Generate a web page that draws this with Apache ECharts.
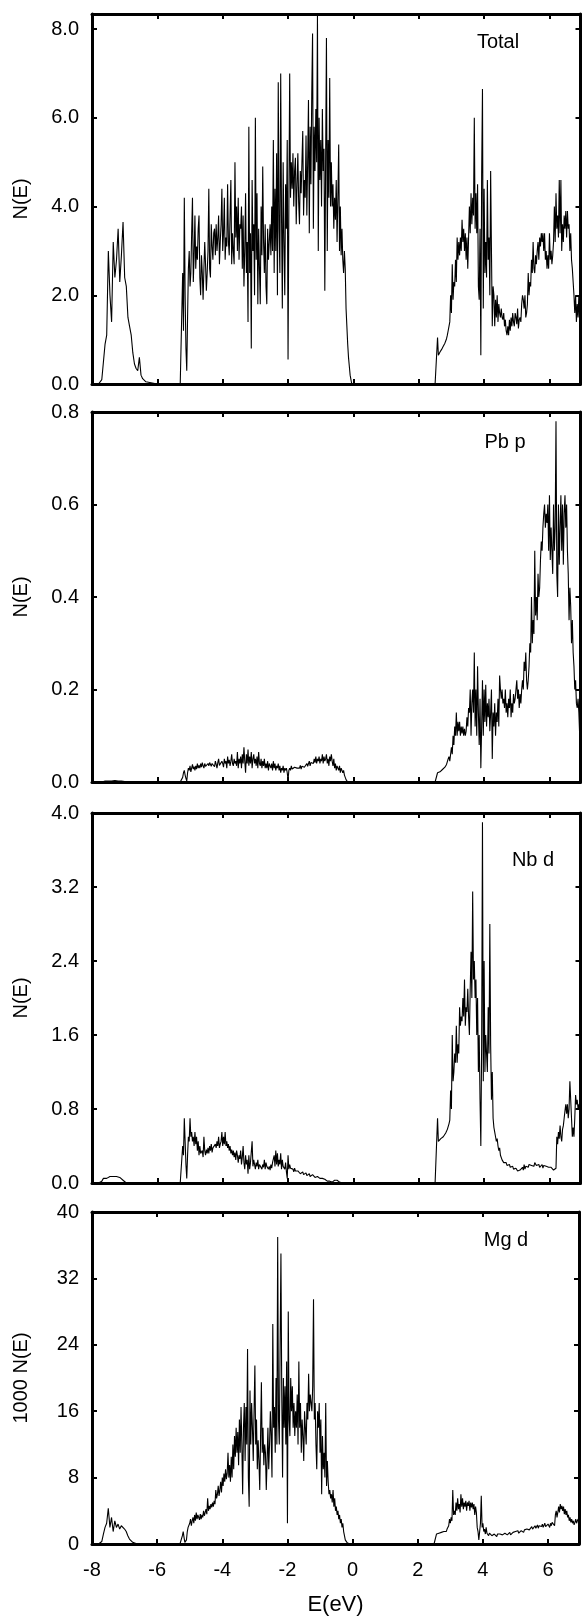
<!DOCTYPE html>
<html><head><meta charset="utf-8">
<script src="https://cdn.jsdelivr.net/npm/echarts@6/dist/echarts.min.js"></script>
<style>html,body{margin:0;padding:0;background:#fff}#c{width:582px;height:1617px}</style>
</head><body><div id="c"></div>
<script>
// Energy sampling points (eV): coarse in empty gaps, fine inside the bands
const energy = [
-8,-7.8,
-7.75,-7.7,-7.65,-7.6,-7.55,-7.5,-7.45,-7.4,-7.35,-7.3,-7.25,-7.2,-7.15,-7.1,-7.05,
-7,-6.95,-6.9,-6.85,-6.8,-6.75,-6.7,-6.65,-6.6,-6.55,-6.5,-6.45,-6.4,-6.35,-6.3,
-6,-5.5,-5.3,
-5.25,-5.225,-5.2,-5.175,-5.15,-5.125,-5.1,-5.075,
-5.05,-5.025,-5,-4.975,-4.95,-4.925,-4.9,-4.875,
-4.85,-4.825,-4.8,-4.775,-4.75,-4.725,-4.7,-4.675,
-4.65,-4.625,-4.6,-4.575,-4.55,-4.525,-4.5,-4.475,
-4.45,-4.425,-4.4,-4.375,-4.35,-4.325,-4.3,-4.275,
-4.25,-4.225,-4.2,-4.175,-4.15,-4.125,-4.1,-4.075,
-4.05,-4.025,-4,-3.975,-3.95,-3.925,-3.9,-3.875,
-3.85,-3.825,-3.8,-3.775,-3.75,-3.725,-3.7,-3.675,
-3.65,-3.625,-3.6,-3.575,-3.55,-3.525,-3.5,-3.475,
-3.45,-3.425,-3.4,-3.375,-3.35,-3.325,-3.3,-3.275,
-3.25,-3.225,-3.2,-3.175,-3.15,-3.125,-3.1,-3.075,
-3.05,-3.025,-3,-2.975,-2.95,-2.925,-2.9,-2.875,
-2.85,-2.825,-2.8,-2.775,-2.75,-2.725,-2.7,-2.675,
-2.65,-2.625,-2.6,-2.575,-2.55,-2.525,-2.5,-2.475,
-2.45,-2.425,-2.4,-2.375,-2.35,-2.325,-2.3,-2.275,
-2.25,-2.225,-2.2,-2.175,-2.15,-2.125,-2.1,-2.075,
-2.05,-2.025,-2,-1.975,-1.95,-1.925,-1.9,-1.875,
-1.85,-1.825,-1.8,-1.775,-1.75,-1.725,-1.7,-1.675,
-1.65,-1.625,-1.6,-1.575,-1.55,-1.525,-1.5,-1.475,
-1.45,-1.425,-1.4,-1.375,-1.35,-1.325,-1.3,-1.275,
-1.25,-1.225,-1.2,-1.175,-1.15,-1.125,-1.1,-1.075,
-1.05,-1.025,-1,-0.975,-0.95,-0.925,-0.9,-0.875,
-0.85,-0.825,-0.8,-0.775,-0.75,-0.725,-0.7,-0.675,
-0.65,-0.625,-0.6,-0.575,-0.55,-0.525,-0.5,-0.475,
-0.45,-0.425,-0.4,-0.375,-0.35,-0.325,-0.3,-0.275,
-0.25,-0.225,-0.2,-0.175,-0.15,-0.125,-0.1,-0.075,
-0.05,
0.3,1.5,2.5,
2.55,2.575,2.6,2.625,2.65,2.675,2.7,2.725,
2.75,2.775,2.8,2.825,2.85,2.875,2.9,2.925,
2.95,2.975,3,3.025,3.05,3.075,3.1,3.125,
3.15,3.175,3.2,3.225,3.25,3.275,3.3,3.325,
3.35,3.375,3.4,3.425,3.45,3.475,3.5,3.525,
3.55,3.575,3.6,3.625,3.65,3.675,3.7,3.725,
3.75,3.775,3.8,3.825,3.85,3.875,3.9,3.925,
3.95,3.975,4,4.025,4.05,4.075,4.1,4.125,
4.15,4.175,4.2,4.225,4.25,4.275,4.3,4.325,
4.35,4.375,4.4,4.425,4.45,4.475,4.5,4.525,
4.55,4.575,4.6,4.625,4.65,4.675,4.7,4.725,
4.75,4.775,4.8,4.825,4.85,4.875,4.9,4.925,
4.95,4.975,5,5.025,5.05,5.075,5.1,5.125,
5.15,5.175,5.2,5.225,5.25,5.275,5.3,5.325,
5.35,5.375,5.4,5.425,5.45,5.475,5.5,5.525,
5.55,5.575,5.6,5.625,5.65,5.675,5.7,5.725,
5.75,5.775,5.8,5.825,5.85,5.875,5.9,5.925,
5.95,5.975,6,6.025,6.05,6.075,6.1,6.125,
6.15,6.175,6.2,6.225,6.25,6.275,6.3,6.325,
6.35,6.375,6.4,6.425,6.45,6.475,6.5,6.525,
6.55,6.575,6.6,6.625,6.65,6.675,6.7,6.725,
6.75,6.775,6.8,6.825,6.85,6.875,6.9,6.925,
6.95
];

// Total N(E)
const totalDOS = [
0,0,
0,0.1,0.5,0.9,1.1,3.0,2.0,1.4,3.2,2.4,2.8,3.5,2.3,2.9,3.65,
2.4,2.2,1.5,1.3,1.1,0.7,0.45,0.35,0.3,0.6,0.2,0.12,0.08,0.05,0.02,
0,0,0,
0,2.5,1.2,4.2,2.0,0.8,0.3,1.5,
2.6,3.0,2.2,2.5,3.4,4.2,2.3,2.9,
3.8,2.6,3.1,2.8,3.5,3.8,2.4,2.0,
2.9,2.5,1.9,2.6,3.2,2.7,2.1,2.5,
3.0,4.4,2.6,2.4,3.6,3.1,2.8,3.4,
3.5,2.9,3.6,3.0,3.3,3.8,2.7,3.2,
3.6,4.4,3.0,3.4,4.2,2.8,3.3,3.1,
4.5,3.2,2.9,3.8,4.6,2.7,3.4,3.0,
2.7,5.0,3.3,4.0,3.0,4.2,2.8,3.6,
3.5,4.0,2.6,3.8,2.2,3.0,4.3,2.5,
3.2,1.4,5.8,2.5,3.4,0.8,4.6,3.0,
3.6,2.0,6.0,2.8,4.3,1.8,3.5,2.6,
1.8,4.0,2.9,4.9,3.2,2.5,3.6,2.2,
1.8,3.5,2.8,3.2,3.6,2.9,4.0,3.0,
5.5,2.5,4.4,3.0,5.2,2.0,6.8,3.5,
2.5,7.0,3.8,1.7,5.0,3.2,2.0,4.5,
3.5,5.5,0.55,4.0,7.0,4.2,5.0,4.4,
5.2,4.0,4.8,5.1,3.6,4.5,5.2,4.1,
3.6,4.8,4.3,5.0,5.7,3.8,4.6,4.2,
5.6,3.8,5.0,6.4,3.4,5.8,4.5,6.5,
7.9,3.5,5.8,4.8,6.2,5.0,8.3,3.0,
6.0,4.6,5.5,4.0,6.2,4.8,5.3,2.1,
5.0,7.8,3.0,5.5,4.2,6.9,4.0,5.0,
4.0,4.5,3.5,4.2,3.7,4.6,3.2,4.2,
5.4,3.0,4.0,2.9,3.5,2.8,2.5,3.0,
2.6,1.7,1.3,0.9,0.6,0.4,0.2,0.1,
0,
0,0,0,
0,1.05,0.65,0.68,0.72,0.75,0.78,0.82,
0.85,0.88,0.92,0.97,1.02,1.1,1.2,1.3,
1.4,2.0,1.6,2.7,1.9,2.3,2.2,2.8,
2.3,3.3,2.8,3.2,2.9,3.3,3.0,3.7,
3.2,3.5,3.0,3.4,2.8,3.3,2.6,3.3,
4.0,3.4,4.3,3.6,4.2,3.8,6.0,3.5,
4.3,3.4,4.5,2.2,1.9,3.5,0.65,4.7,
6.65,1.7,4.4,2.5,3.2,2.4,4.6,2.8,
3.3,2.0,4.8,3.0,1.3,2.2,2.0,1.3,
1.9,1.5,2.0,1.4,1.8,1.6,1.5,1.7,
1.5,1.45,1.6,1.3,1.45,1.2,1.1,1.3,
1.1,1.45,1.2,1.5,1.3,1.6,1.4,1.3,
1.6,1.5,1.35,1.7,1.25,1.45,1.5,1.4,
1.8,2.0,1.9,1.7,2.0,1.5,1.6,1.8,
2.5,2.0,2.3,2.2,2.8,2.5,3.2,2.6,
2.5,2.9,2.7,3.0,3.2,2.8,3.3,3.1,
3.4,3.2,3.4,3.0,3.4,2.8,3.0,2.6,
2.9,2.6,3.4,2.8,3.0,2.7,2.9,3.2,
4.0,3.2,4.3,3.5,3.8,3.3,4.6,3.4,
4.6,3.0,3.6,3.2,3.8,3.5,3.9,3.3,
3.9,3.5,3.6,3.0,3.4,2.8,2.6,2.3,
2.0,1.6,2.0,1.4,1.8,1.5,2.0,1.4,
1.6
];

// Pb p N(E)
const pbP = [
0,0,
0,0,0.003,0.002,0.003,0.002,0.002,0.002,0.003,0.003,0.002,0.002,0.003,0.002,0.002,
0.001,0,0,0,0,0,0,0,0,0,0,0,0,0,0,
0,0,0,
0,0.01,0.02,0.025,0.015,0.008,0.002,0.02,
0.03,0.025,0.035,0.022,0.03,0.038,0.028,0.033,
0.025,0.035,0.028,0.04,0.03,0.036,0.03,0.04,
0.032,0.042,0.035,0.03,0.04,0.034,0.038,0.03,
0.04,0.035,0.042,0.038,0.034,0.04,0.036,0.04,
0.033,0.045,0.038,0.03,0.042,0.05,0.036,0.04,
0.035,0.045,0.04,0.032,0.05,0.04,0.045,0.03,
0.055,0.04,0.048,0.035,0.045,0.06,0.04,0.035,
0.05,0.04,0.045,0.035,0.065,0.03,0.05,0.04,
0.055,0.03,0.06,0.04,0.075,0.045,0.02,0.06,
0.04,0.07,0.035,0.055,0.04,0.065,0.03,0.05,
0.06,0.04,0.05,0.035,0.055,0.03,0.065,0.04,
0.035,0.05,0.03,0.045,0.035,0.05,0.03,0.04,
0.03,0.045,0.025,0.04,0.035,0.03,0.04,0.025,
0.045,0.03,0.04,0.025,0.035,0.03,0.04,0.025,
0.035,0.02,0.03,0.025,0.035,0.02,0.03,0.025,
0.03,0.02,0.005,0.025,0.03,0.025,0.035,0.028,
0.03,0.025,0.032,0.028,0.035,0.03,0.026,0.033,
0.03,0.036,0.028,0.034,0.03,0.038,0.032,0.035,
0.03,0.04,0.034,0.038,0.045,0.035,0.042,0.038,
0.045,0.04,0.05,0.042,0.055,0.04,0.05,0.045,
0.055,0.04,0.05,0.045,0.06,0.04,0.055,0.045,
0.05,0.06,0.04,0.05,0.035,0.055,0.045,0.06,
0.045,0.035,0.05,0.03,0.04,0.025,0.035,0.03,
0.025,0.035,0.02,0.03,0.025,0.02,0.025,0.015,
0.01,0.005,0.003,0,0,0,0,0,
0,
0,0,0,
0,0.02,0.018,0.02,0.022,0.024,0.025,0.027,
0.028,0.03,0.032,0.034,0.038,0.042,0.05,0.055,
0.045,0.06,0.075,0.06,0.1,0.08,0.12,0.1,
0.15,0.1,0.13,0.11,0.13,0.1,0.12,0.105,
0.12,0.1,0.115,0.1,0.11,0.14,0.12,0.16,
0.15,0.2,0.1,0.17,0.2,0.15,0.28,0.12,
0.2,0.1,0.25,0.15,0.08,0.18,0.03,0.12,
0.22,0.1,0.2,0.13,0.21,0.12,0.17,0.14,
0.18,0.11,0.15,0.2,0.05,0.15,0.12,0.17,
0.1,0.15,0.13,0.18,0.12,0.23,0.2,0.18,
0.2,0.17,0.18,0.16,0.2,0.15,0.17,0.14,
0.18,0.16,0.2,0.14,0.17,0.15,0.19,0.17,
0.18,0.2,0.22,0.18,0.2,0.16,0.19,0.17,
0.2,0.22,0.2,0.26,0.24,0.28,0.22,0.2,
0.22,0.25,0.3,0.28,0.4,0.3,0.35,0.32,
0.5,0.36,0.4,0.35,0.45,0.4,0.42,0.48,
0.52,0.5,0.55,0.58,0.6,0.55,0.58,0.56,
0.6,0.5,0.62,0.48,0.55,0.5,0.45,0.6,
0.5,0.55,0.78,0.45,0.4,0.6,0.47,0.55,
0.62,0.5,0.6,0.47,0.58,0.62,0.55,0.6,
0.5,0.45,0.35,0.42,0.38,0.3,0.35,0.28,
0.25,0.2,0.22,0.17,0.16,0.18,0.15,0.1,
0.09
];

// Nb d N(E)
const nbD = [
0,0,
0,0.02,0.05,0.06,0.05,0.06,0.07,0.06,0.07,0.06,0.07,0.05,0.06,0.04,0.03,
0.01,0,0,0,0,0,0,0,0,0,0,0,0,0,0,
0,0,0,
0,0.4,0.3,0.7,0.45,0.2,0.05,0.3,
0.5,0.45,0.7,0.5,0.55,0.45,0.5,0.4,
0.55,0.42,0.5,0.35,0.45,0.3,0.4,0.32,
0.3,0.35,0.28,0.5,0.35,0.3,0.36,0.32,
0.38,0.32,0.4,0.35,0.42,0.33,0.38,0.4,
0.36,0.42,0.38,0.45,0.4,0.5,0.38,0.42,
0.45,0.55,0.4,0.5,0.42,0.55,0.4,0.45,
0.38,0.42,0.35,0.4,0.32,0.36,0.3,0.35,
0.28,0.33,0.25,0.35,0.3,0.22,0.3,0.26,
0.35,0.2,0.28,0.4,0.22,0.15,0.3,0.2,
0.25,0.1,0.3,0.15,0.22,0.2,0.45,0.18,
0.25,0.2,0.15,0.22,0.18,0.25,0.15,0.2,
0.18,0.22,0.15,0.2,0.17,0.25,0.15,0.22,
0.18,0.2,0.15,0.18,0.14,0.2,0.16,0.22,
0.2,0.3,0.18,0.35,0.2,0.32,0.18,0.25,
0.2,0.32,0.15,0.25,0.18,0.2,0.15,0.22,
0.12,0.05,0.3,0.15,0.2,0.16,0.18,0.14,
0.15,0.12,0.16,0.13,0.15,0.11,0.13,0.12,
0.13,0.1,0.12,0.11,0.12,0.09,0.11,0.1,
0.11,0.08,0.1,0.09,0.1,0.07,0.09,0.08,
0.09,0.07,0.08,0.06,0.08,0.06,0.07,0.05,
0.06,0.05,0.06,0.04,0.05,0.03,0.05,0.04,
0.03,0.05,0.02,0.04,0.03,0.02,0.03,0.02,
0.01,0.03,0.02,0.03,0.01,0.02,0.03,0.01,
0.02,0.01,0.005,0.01,0,0,0,0,
0,0,0,0,0,0,0,0,
0,
0,0,0,
0,0.7,0.45,0.46,0.47,0.48,0.49,0.5,
0.5,0.51,0.52,0.54,0.56,0.58,0.6,0.64,
0.68,1.0,0.8,1.6,1.1,1.2,1.4,1.3,
1.7,1.3,1.5,1.4,1.9,1.7,1.8,1.75,
2.0,1.8,2.2,1.7,1.9,1.85,2.1,1.8,
1.6,2.1,2.5,2.0,3.15,2.2,2.4,2.0,
2.2,1.6,2.0,1.2,1.6,0.9,0.4,1.5,
3.9,1.1,2.4,1.2,1.6,1.4,1.2,1.9,
1.4,2.8,1.5,0.9,1.2,0.7,0.6,0.55,
0.5,0.45,0.48,0.4,0.35,0.38,0.3,0.28,
0.25,0.27,0.22,0.24,0.2,0.22,0.19,0.2,
0.18,0.2,0.17,0.19,0.16,0.18,0.15,0.17,
0.15,0.16,0.14,0.13,0.15,0.12,0.14,0.16,
0.13,0.17,0.14,0.2,0.15,0.18,0.16,0.19,
0.17,0.2,0.18,0.22,0.19,0.21,0.2,0.18,
0.22,0.2,0.19,0.21,0.18,0.2,0.17,0.19,
0.18,0.2,0.16,0.19,0.17,0.2,0.18,0.16,
0.18,0.17,0.16,0.15,0.17,0.15,0.16,0.14,
0.15,0.14,0.16,0.5,0.42,0.55,0.48,0.62,
0.5,0.45,0.58,0.62,0.7,0.78,0.85,0.75,
0.85,0.7,0.8,1.1,0.9,0.7,0.5,0.6,
0.5,0.7,0.95,0.85,0.9,0.8,0.85,0.8,
0.8
];

// Mg d, 1000 x N(E)
const mgD = [
0,0,
0,0.3,1.2,2.0,2.5,4.3,2.0,3.2,1.5,2.8,2.0,2.4,1.8,2.2,2.0,
1.8,1.5,1.0,0.6,0.4,0.2,0.1,0.05,0,0,0,0,0,0,0,
0,0,0,
0,1.0,1.5,0.8,0.2,0,0.5,1.5,
2.0,1.8,2.5,3.0,2.2,2.8,3.2,2.5,
3.5,2.8,3.8,3.0,3.5,3.2,2.9,3.6,
3.0,3.5,3.2,4.0,3.4,3.8,4.2,3.6,
5.5,4.0,4.6,4.2,4.8,4.4,5.0,4.5,
5.2,4.8,6.5,5.5,6.0,7.0,5.8,6.5,
7.5,6.2,8.0,7.0,8.5,7.5,9.0,7.8,
8.5,11.0,8.0,9.5,7.5,10.5,8.0,12.0,
9.0,13.0,10.5,14.0,11.0,13.5,9.5,15.0,
11.0,16.5,12.0,6.0,14.0,17.0,10.0,16.5,
12.0,23.5,8.0,4.5,18.5,12.0,17.0,14.0,
10.0,16.0,21.5,12.0,15.0,9.0,12.5,10.0,
6.5,13.0,19.5,11.0,14.0,9.5,12.0,11.0,
6.5,10.0,14.0,9.0,12.0,16.0,13.0,8.0,
26.5,14.0,16.5,11.0,20.0,12.0,37.0,15.0,
12.0,24.0,35.0,18.0,8.0,20.0,14.0,19.0,
12.0,22.0,2.5,28.0,15.0,13.0,20.0,16.0,
19.0,14.0,17.0,13.0,16.0,14.0,18.0,12.0,
22.0,14.0,17.0,11.0,15.0,13.0,10.0,16.0,
14.0,12.0,17.0,15.0,20.5,16.0,18.0,17.0,
16.0,19.0,29.5,15.0,17.0,12.0,9.0,16.0,
14.0,17.0,11.0,15.0,6.0,13.0,9.0,11.0,
8.0,17.0,7.0,10.0,7.5,6.0,6.5,5.5,
6.0,5.0,6.5,4.5,5.5,4.0,4.5,3.5,
4.0,3.0,3.5,2.5,3.0,2.0,2.5,1.5,
1.0,0.5,0.3,0.2,0.1,0,0,0,
0,
0,0,0,
0,1.2,1.1,1.2,1.3,1.2,1.3,1.4,
1.3,1.4,1.5,1.4,1.6,1.5,1.8,2.0,
2.2,3.0,2.5,3.2,2.8,6.5,3.5,4.0,
3.5,5.0,4.0,5.5,4.2,4.8,3.8,6.0,
4.5,5.5,4.2,5.0,4.5,5.2,4.0,5.0,
4.6,5.2,4.0,5.0,4.4,5.0,4.2,4.8,
3.5,4.5,3.8,2.0,1.5,0.5,1.5,2.5,
5.8,2.0,2.5,1.5,1.8,1.2,2.0,1.3,
1.5,1.0,1.3,1.1,1.4,1.0,1.2,0.9,
1.2,1.0,1.1,0.9,1.2,1.0,1.1,1.2,
1.0,1.3,1.1,1.2,1.0,1.3,1.1,1.2,
1.1,1.3,1.2,1.4,1.1,1.3,1.2,1.4,
1.3,1.2,1.5,1.3,1.4,1.6,1.3,1.5,
1.4,1.6,1.5,1.8,1.4,1.7,1.6,1.5,
1.8,1.6,2.0,1.7,1.9,1.6,2.1,1.8,
2.0,1.8,2.2,1.9,2.1,2.3,1.9,2.2,
2.0,2.3,2.1,2.4,2.0,2.2,2.5,2.1,
2.3,2.0,2.4,2.2,2.0,2.5,2.2,2.6,
2.4,2.8,2.2,3.5,4.0,3.2,3.8,4.5,
3.8,4.8,4.2,4.6,4.0,4.5,3.6,4.2,
3.5,4.0,3.2,3.5,2.8,3.2,2.6,3.0,
2.5,2.8,2.3,2.6,3.0,2.5,2.8,3.0,
2.8
];

const panelLabels = ['Total', 'Pb p', 'Nb d', 'Mg d'];
const yNames = ['N(E)', 'N(E)', 'N(E)', '1000 N(E)'];
const yMax = [8.34, 0.8, 4.0, 40];
const yInterval = [2, 0.2, 0.8, 8];
const yDecimals = [1, 1, 1, 0];
const xTicks = [-8, -6, -4, -2, 0, 2, 4, 6];
const seriesVals = [totalDOS, pbP, nbD, mgD];

const FONT = '"Liberation Sans", Arial, Helvetica, sans-serif';
const gridTops = [14, 412, 813, 1212];
const gridHeights = [370, 370, 370, 338];
const labelPos = [[498, 42], [505, 442], [533, 860], [506, 1240]];

const chart = echarts.init(document.getElementById('c'), null, {renderer: 'canvas'});
const grids = [], xAxes = [], yAxes = [], series = [], graphics = [];
const lineBlack = {show: true, onZero: false, lineStyle: {color: '#000', width: 3}};
const tickIn = {show: true, inside: true, length: 5, lineStyle: {color: '#000', width: 2}};

for (let p = 0; p < 4; p++) {
  grids.push({left: 92, right: 1.5, top: gridTops[p], height: gridHeights[p]});
  const isLast = p === 3;
  xAxes.push({
    type: 'value', gridIndex: p, position: 'bottom', min: -8, max: 6.95, interval: 2,
    axisLine: lineBlack, axisTick: tickIn, splitLine: {show: false},
    axisLabel: {show: isLast, color: '#000', fontFamily: FONT, fontSize: 20, margin: 16,
      formatter: v => xTicks.includes(v) ? String(v) : ''},
    name: isLast ? 'E(eV)' : '', nameLocation: 'middle', nameGap: 50,
    nameTextStyle: {color: '#000', fontFamily: FONT, fontSize: 22}
  });
  xAxes.push({
    type: 'value', gridIndex: p, position: 'top', min: -8, max: 6.95, interval: 2,
    axisLine: lineBlack, axisTick: tickIn, splitLine: {show: false}, axisLabel: {show: false}
  });
  const dec = yDecimals[p], iv = yInterval[p];
  yAxes.push({
    type: 'value', gridIndex: p, position: 'left', min: 0, max: yMax[p], interval: iv,
    axisLine: lineBlack, axisTick: tickIn, splitLine: {show: false},
    axisLabel: {color: '#000', fontFamily: FONT, fontSize: 20, margin: 13,
      formatter: v => {const k = v / iv; return Math.abs(k - Math.round(k)) < 1e-6 ? v.toFixed(dec) : '';}},
    name: yNames[p], nameLocation: 'middle', nameGap: 61, nameRotate: 90,
    nameTextStyle: {color: '#000', fontFamily: FONT, fontSize: 20}
  });
  yAxes.push({
    type: 'value', gridIndex: p, position: 'right', min: 0, max: yMax[p], interval: iv,
    axisLine: lineBlack, axisTick: tickIn, splitLine: {show: false}, axisLabel: {show: false}
  });
  const vals = seriesVals[p];
  series.push({
    type: 'line', xAxisIndex: p * 2, yAxisIndex: p * 2,
    data: energy.map((e, i) => [e, vals[i]]),
    showSymbol: false, symbol: 'none', clip: true,
    lineStyle: {color: '#000', width: 1.1}
  });
  graphics.push({
    type: 'text', x: labelPos[p][0], y: labelPos[p][1],
    style: {text: panelLabels[p], fill: '#000', font: '20px ' + FONT, textAlign: 'center', textVerticalAlign: 'middle'}
  });
  if (vals.length !== energy.length) {
    graphics.push({type: 'text', x: 120, y: gridTops[p] + 100,
      style: {text: 'LEN ' + vals.length + '/' + energy.length, fill: 'red', font: '20px sans-serif'}});
  }
}

chart.setOption({
  animation: false,
  backgroundColor: '#fff',
  grid: grids, xAxis: xAxes, yAxis: yAxes, series: series, graphic: graphics
});
</script>
</body></html>
